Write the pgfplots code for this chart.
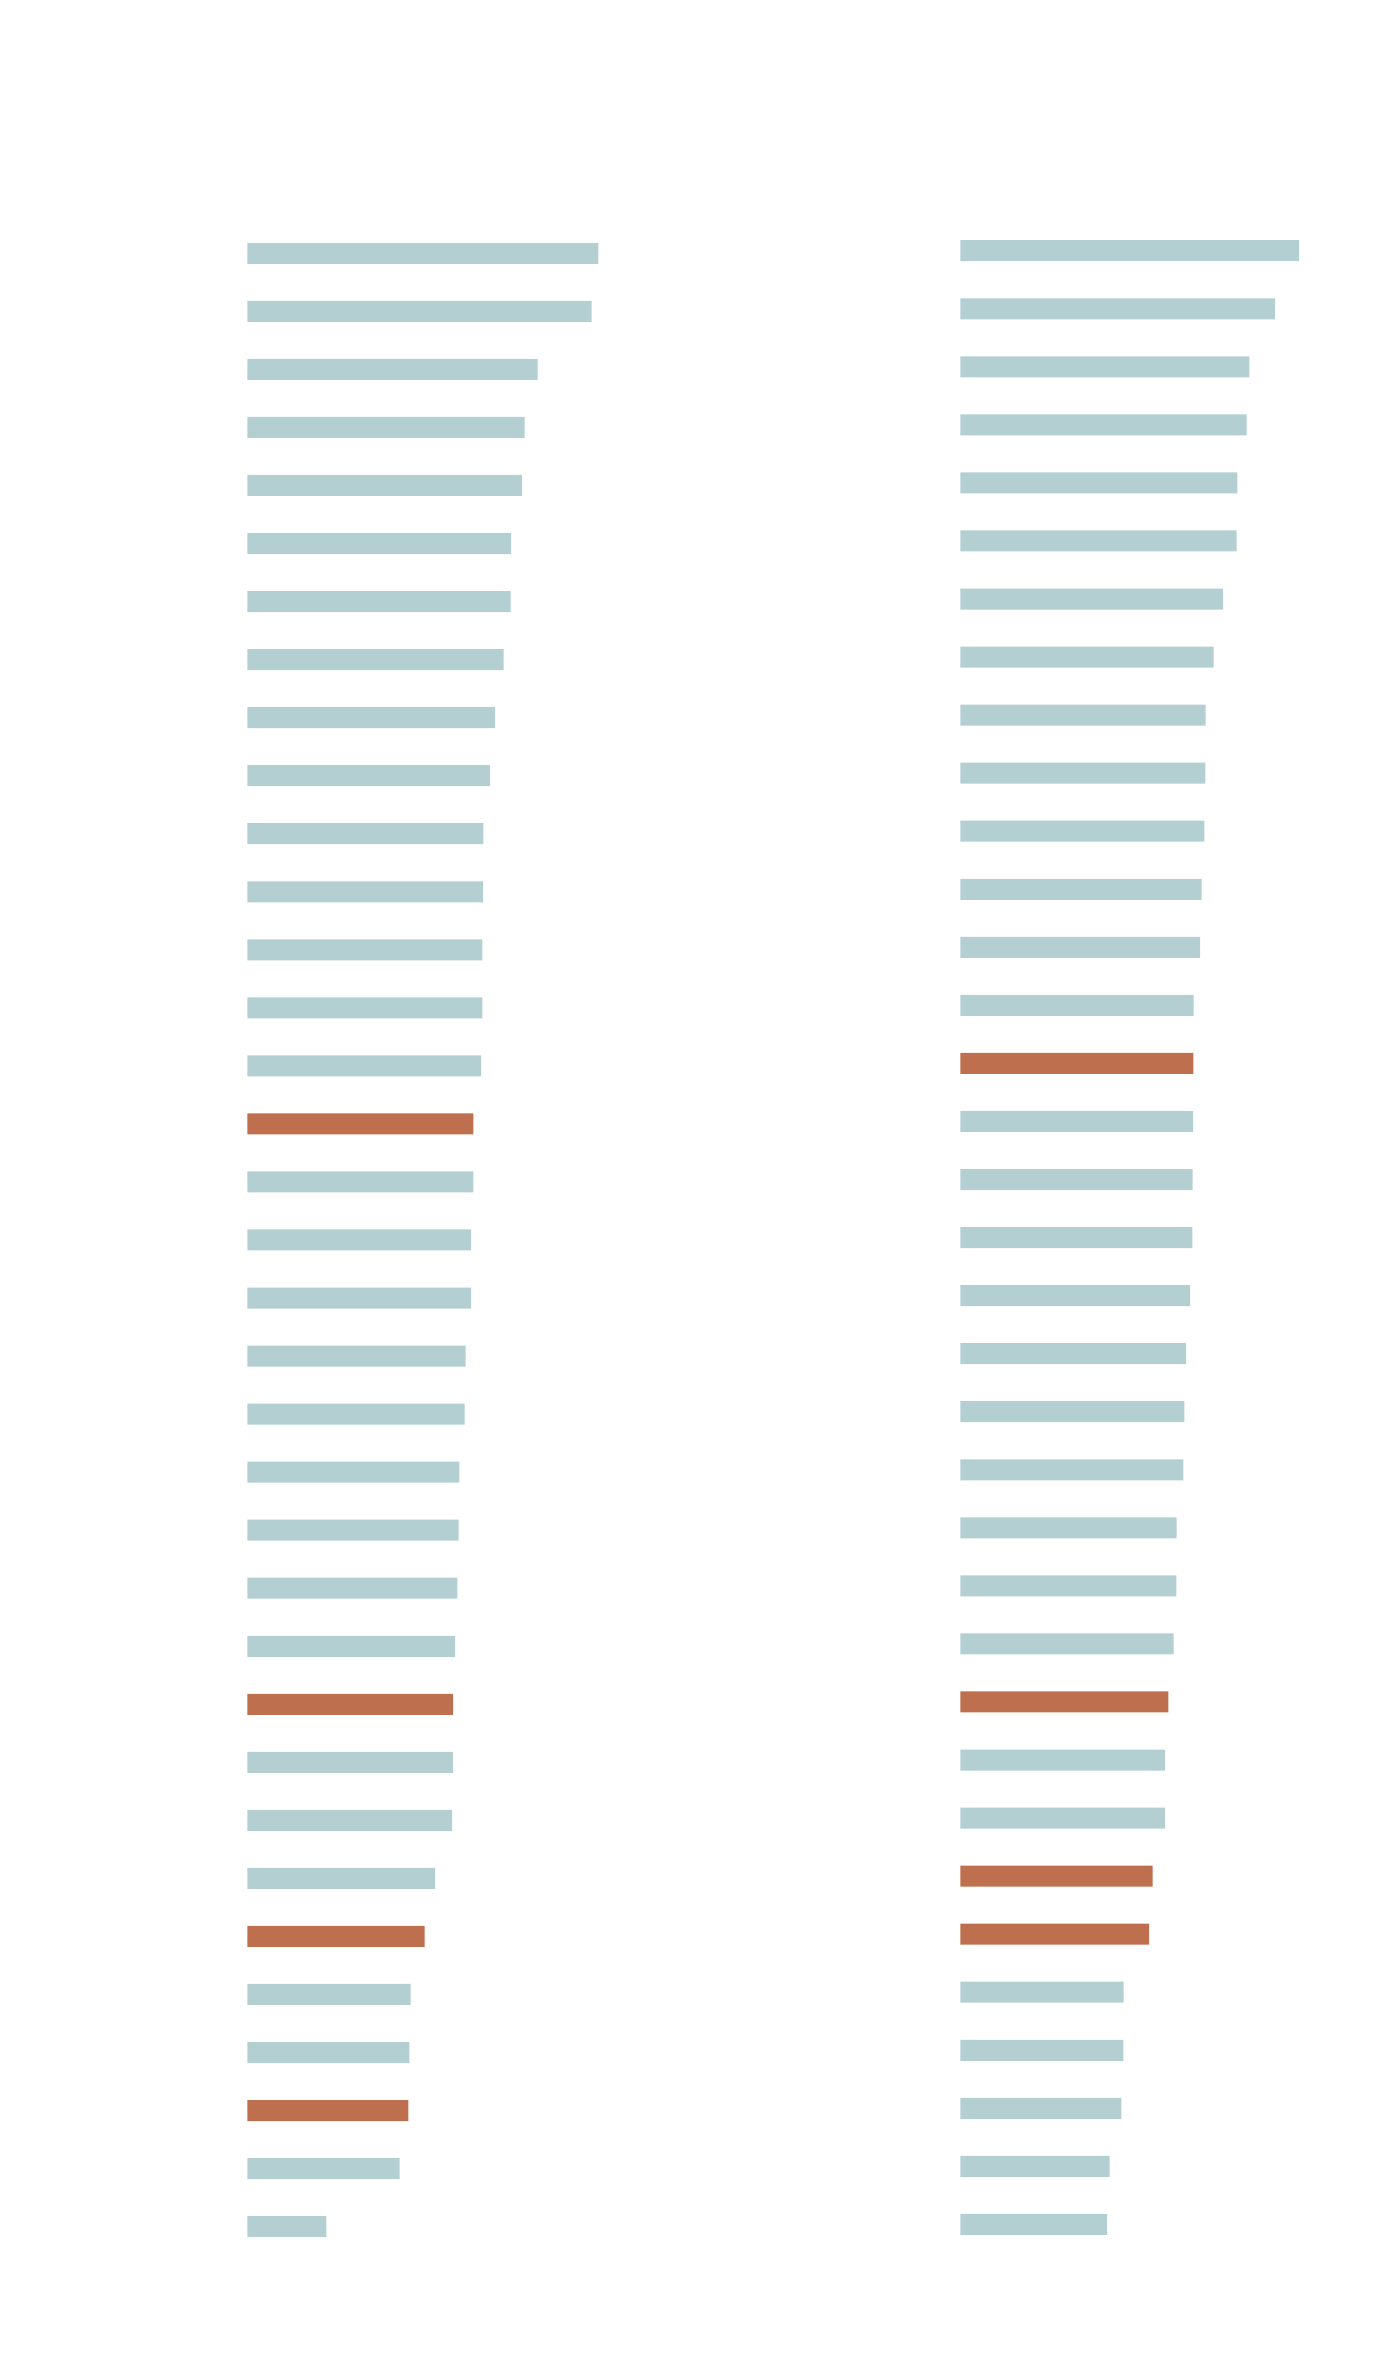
\documentclass[border=0pt]{standalone}
\usepackage{pgfplots}
\pgfplotsset{compat=1.18}
\definecolor{barblue}{RGB}{180,207,210}
\definecolor{barorange}{RGB}{190,111,77}
\pgfplotstableread{
len idx
351.0 1
344.4 2
290.4 3
277.4 4
274.7 5
263.7 6
263.4 7
256.4 8
247.7 9
242.7 10
236.0 11
235.7 12
235.0 13
235.0 14
233.7 15
226.0 17
223.7 18
223.7 19
218.4 20
217.4 21
212.0 22
211.4 23
210.0 24
207.7 25
205.7 27
204.7 28
187.7 29
163.4 31
162.0 32
152.4 34
79.0 35
}\leftblue
\pgfplotstableread{
len idx
226.0 16
205.7 26
177.4 30
161.0 33
}\leftorange
\pgfplotstableread{
len idx
338.7 1
314.7 2
289.0 3
286.4 4
277.0 5
276.4 6
262.7 7
253.4 8
245.4 9
245.0 10
244.0 11
241.4 12
239.7 13
233.4 14
232.7 16
232.4 17
232.0 18
229.7 19
225.7 20
224.0 21
223.0 22
216.4 23
216.0 24
213.4 25
204.7 27
204.7 28
163.4 31
163.0 32
161.0 33
149.4 34
146.7 35
}\rightblue
\pgfplotstableread{
len idx
233.0 15
208.0 26
192.4 29
188.7 30
}\rightorange
\begin{document}
\begin{tikzpicture}
\path[use as bounding box] (0,0) rectangle (350pt,590pt);
\pgfplotsset{
  panel/.style={at={(0,0)}, anchor=south west, scale only axis,
    width=350pt, height=590pt, hide axis, y dir=reverse, clip=false},
  hbar/.style={xbar, bar width=5.25pt, bar shift=0pt, draw=none, fill=#1}
}
\begin{axis}[panel, xmin=-247.3, xmax=1152.7, ymin=-3.3642, ymax=37.298]
\addplot[hbar=barblue] table[x=len, y=idx] {\leftblue};
\addplot[hbar=barorange] table[x=len, y=idx] {\leftorange};
\end{axis}
\begin{axis}[panel, xmin=-960.3, xmax=439.7, ymin=-3.3187, ymax=37.336]
\addplot[hbar=barblue] table[x=len, y=idx] {\rightblue};
\addplot[hbar=barorange] table[x=len, y=idx] {\rightorange};
\end{axis}
\end{tikzpicture}
\end{document}
